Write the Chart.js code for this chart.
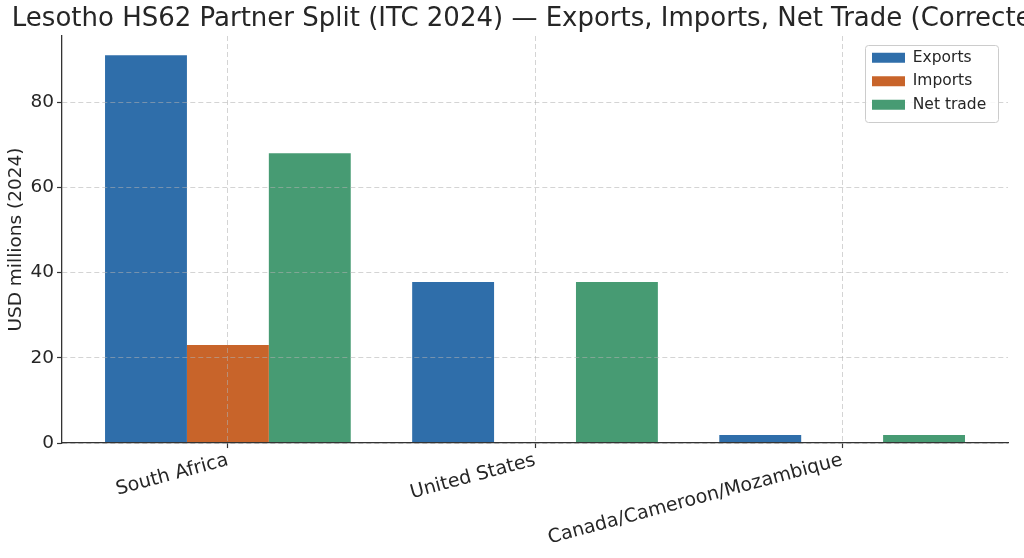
<!DOCTYPE html>
<html>
<head>
<meta charset="utf-8">
<script src="https://cdn.jsdelivr.net/npm/chart.js@4/dist/chart.umd.min.js"></script>
<style>
  html, body { margin: 0; padding: 0; background: #ffffff; }
  canvas { display: block; }
</style>
</head>
<body>
<canvas id="c" width="1024" height="558"></canvas>
<script>
// ---- data ----
const chartTitle = 'Lesotho HS62 Partner Split (ITC 2024) \u2014 Exports, Imports, Net Trade (Corrected)';
const yAxisTitle = 'USD millions (2024)';
const categories = ['South Africa', 'United States', 'Canada/Cameroon/Mozambique'];
const seriesNames = ['Exports', 'Imports', 'Net trade'];
const exportsVals = [91.0, 37.8, 1.9];
const importsVals = [23.0, 0, 0];
const netVals = [68.0, 37.8, 1.9];
const yTickValues = [0, 20, 40, 60, 80];

// ---- styling ----
const FONT = "'DejaVu Sans', sans-serif";
const TEXT = '#262626';
const colors = ['#2f6eaa', '#c8642a', '#479b73'];
const GRID = 'rgba(176,176,176,0.55)';
const AXIS = '#333333';

function pts(vals) { return vals.map((v, i) => ({ x: i, y: v })); }

const legendFramePlugin = {
  id: 'legendFrame',
  afterInit(chart) {
    const lg = chart.legend;
    if (lg) { lg._origDraw = lg.draw; lg.draw = function () {}; }
    const tb = chart.titleBlock;
    if (tb && tb._drawArgs) {
      const orig = tb._drawArgs;
      tb._drawArgs = function (o) { const r = orig.call(this, o); r.maxWidth = 5000; return r; };
    }
  },
  afterLayout(chart) {
    const lg = chart.legend, ca = chart.chartArea;
    if (!lg) return;
    lg.left = ca.right - 144; lg.top = ca.top + 6;
    lg.right = ca.right + 10; lg.bottom = ca.top + 110;
    lg.width = lg.right - lg.left; lg.height = lg.bottom - lg.top;
  },
  afterDraw(chart) {
    const ctx = chart.ctx, ca = chart.chartArea;
    const x = ca.right - 143 + 0.5, y = ca.top + 9 + 0.5, w = 133, h = 77, r = 3;
    ctx.save();
    ctx.beginPath();
    ctx.moveTo(x + r, y);
    ctx.arcTo(x + w, y, x + w, y + h, r);
    ctx.arcTo(x + w, y + h, x, y + h, r);
    ctx.arcTo(x, y + h, x, y, r);
    ctx.arcTo(x, y, x + w, y, r);
    ctx.closePath();
    ctx.fillStyle = 'rgba(255,255,255,0.85)';
    ctx.fill();
    ctx.strokeStyle = '#cccccc';
    ctx.lineWidth = 1;
    ctx.stroke();
    ctx.restore();
    const lg = chart.legend;
    if (lg && lg._origDraw) lg._origDraw.call(lg);
  }
};

const gridOpts = {
  display: true, offset: false, color: GRID, lineWidth: 1, z: 1,
  drawTicks: true, tickLength: 5, tickColor: AXIS, tickWidth: 1.2, tickBorderDash: []
};
const borderOpts = { display: true, color: AXIS, width: 1.3, dash: [5, 3], z: 2 };

new Chart(document.getElementById('c'), {
  type: 'bar',
  data: {
    datasets: [
      { label: seriesNames[0], data: pts(exportsVals), backgroundColor: colors[0], borderWidth: 0 },
      { label: seriesNames[1], data: pts(importsVals), backgroundColor: colors[1], borderWidth: 0 },
      { label: seriesNames[2], data: pts(netVals), backgroundColor: colors[2], borderWidth: 0 }
    ]
  },
  options: {
    responsive: false,
    animation: false,
    devicePixelRatio: 1,
    layout: { padding: { left: 5, right: 16, top: 0, bottom: 7.2 } },
    datasets: { bar: { categoryPercentage: 0.8, barPercentage: 1.0 } },
    plugins: {
      title: {
        display: true, text: chartTitle, fullSize: false, align: 'center', color: TEXT,
        font: { family: FONT, size: 26, weight: 'normal' }, padding: { top: 3.6, bottom: 1.2 }
      },
      legend: {
        position: 'chartArea', align: 'start',
        labels: { boxWidth: 33, boxHeight: 10, padding: 8, color: TEXT, font: { family: FONT, size: 15.5 } }
      },
      tooltip: { enabled: false }
    },
    scales: {
      x: {
        type: 'linear', min: -0.54, max: 2.54, offset: false,
        afterBuildTicks: (s) => { s.ticks = categories.map((_, i) => ({ value: i })); },
        ticks: {
          autoSkip: false, minRotation: 15, maxRotation: 15, padding: 1, color: TEXT,
          font: { family: FONT, size: 19 },
          callback: (v) => categories[Math.round(v)]
        },
        grid: gridOpts,
        border: borderOpts
      },
      y: {
        type: 'linear', min: 0, max: 95.5,
        afterBuildTicks: (s) => { s.ticks = yTickValues.map((v) => ({ value: v })); },
        ticks: { padding: 3, color: TEXT, font: { family: FONT, size: 18.5 } },
        title: {
          display: true, text: yAxisTitle, color: TEXT,
          font: { family: FONT, size: 18.5 }, padding: { top: 0, bottom: 0.3 }
        },
        grid: gridOpts,
        border: borderOpts
      }
    }
  },
  plugins: [legendFramePlugin]
});
</script>
</body>
</html>
